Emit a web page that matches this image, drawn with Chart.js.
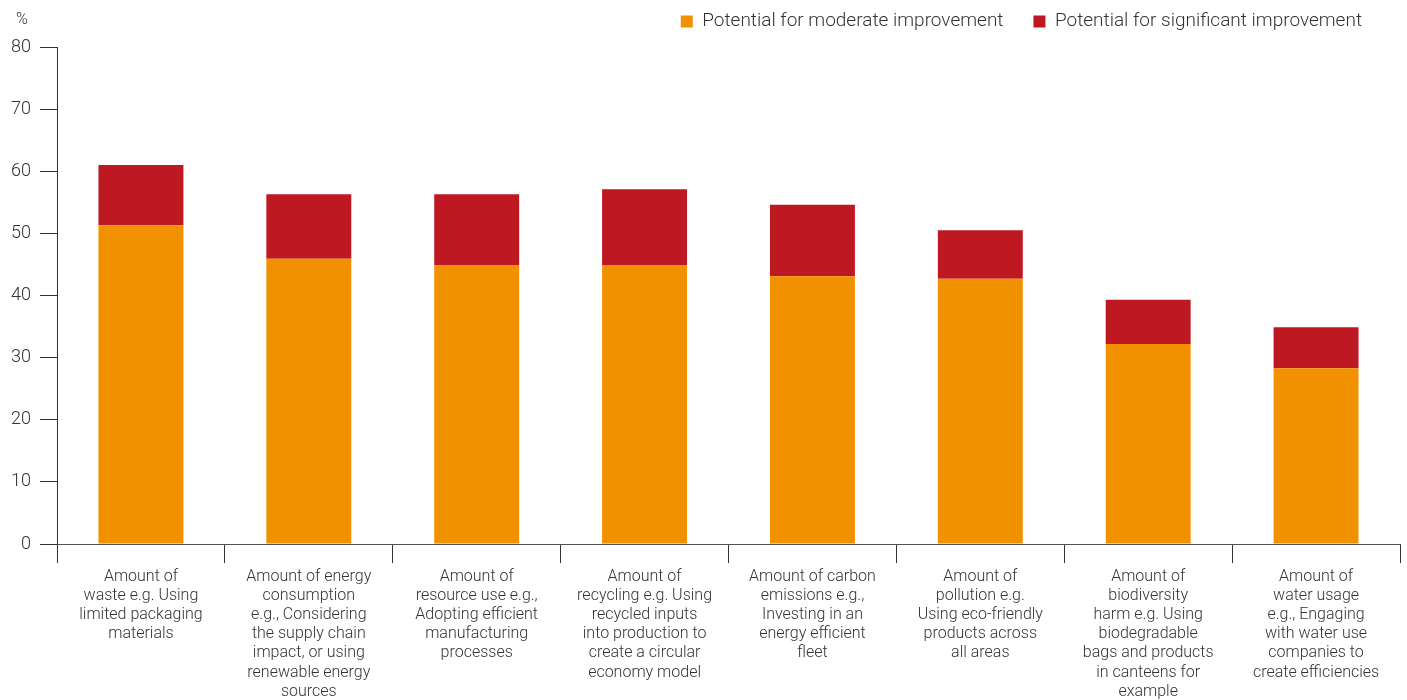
<!DOCTYPE html>
<html>
<head>
<meta charset="utf-8">
<script src="https://cdn.jsdelivr.net/npm/chart.js@4"></script>
<style>
  body { margin: 0; background: #fff; }
  #wrap { width: 1407px; height: 700px; }
</style>
</head>
<body>
<div id="wrap"><canvas id="myChart" width="1407" height="700"></canvas></div>
<script>
'use strict';

let categories = [
  ['Amount of', 'waste e.g. Using', 'limited packaging', 'materials'],
  ['Amount of energy', 'consumption', 'e.g., Considering', 'the supply chain', 'impact, or using', 'renewable energy', 'sources'],
  ['Amount of', 'resource use e.g.,', 'Adopting efficient', 'manufacturing', 'processes'],
  ['Amount of', 'recycling e.g. Using', 'recycled inputs', 'into production to', 'create a circular', 'economy model'],
  ['Amount of carbon', 'emissions e.g.,', 'Investing in an', 'energy efficient', 'fleet'],
  ['Amount of', 'pollution e.g.', 'Using eco-friendly', 'products across', 'all areas'],
  ['Amount of', 'biodiversity', 'harm e.g. Using', 'biodegradable', 'bags and products', 'in canteens for', 'example'],
  ['Amount of', 'water usage', 'e.g., Engaging', 'with water use', 'companies to', 'create efficiencies']
];

let moderate = [51.3, 45.9, 44.9, 44.9, 43.1, 42.7, 32.2, 28.3];
let significant = [9.7, 10.4, 11.4, 12.2, 11.5, 7.8, 7.1, 6.6];

let seriesNames = ['Potential for moderate improvement', 'Potential for significant improvement'];
let yTicks = [0, 10, 20, 30, 40, 50, 60, 70, 80];

let orange = '#f29100';
let red = '#be1823';
let inkColor = '#333333';
let fontFamily = 'Roboto, "Noto Sans", sans-serif';

// "%" unit above the y axis labels
let unitLabel = {
  id: 'unitLabel',
  afterDraw(chart) {
    let ctx = chart.ctx;
    let area = chart.chartArea;
    ctx.save();
    ctx.font = '300 16px ' + fontFamily;
    ctx.fillStyle = inkColor;
    ctx.textAlign = 'center';
    ctx.textBaseline = 'middle';
    ctx.fillText('%', area.left - 35, 20);
    ctx.restore();
  }
};

// wide gap between legend items but a short legend box, so move its top up
// (bottom stays put so the clip area still holds the text)
let legendNudge = {
  id: 'legendNudge',
  afterLayout(chart) {
    let lg = chart.legend;
    lg.left -= 8;
    lg.right -= 8;
    lg.top -= 24;
  }
};

let ctx = document.getElementById('myChart').getContext('2d');

let myChart = new Chart(ctx, {
  type: 'bar',
  data: {
    labels: categories,
    datasets: [
      {
        label: seriesNames[0],
        data: moderate,
        backgroundColor: orange,
        barPercentage: 0.506,
        categoryPercentage: 1
      },
      {
        label: seriesNames[1],
        data: significant,
        backgroundColor: red,
        barPercentage: 0.506,
        categoryPercentage: 1
      }
    ]
  },
  options: {
    responsive: false,
    animation: false,
    layout: { padding: { top: 6, right: 7, left: 0, bottom: 0 } },
    plugins: {
      tooltip: { enabled: false },
      legend: {
        position: 'top',
        align: 'end',
        maxHeight: 41,
        labels: {
          boxWidth: 12,
          boxHeight: 12,
          padding: 30,
          color: inkColor,
          font: { family: fontFamily, size: 19, weight: '300' }
        }
      }
    },
    scales: {
      x: {
        stacked: true,
        grid: {
          offset: true,
          drawOnChartArea: false,
          tickLength: 19,
          color: inkColor
        },
        border: { color: '#555555' },
        ticks: {
          color: inkColor,
          maxRotation: 0,
          autoSkip: false,
          padding: 4,
          font: { family: fontFamily, size: 16, weight: '300', lineHeight: 1.2 }
        },
        afterFit(scale) { scale.height = 156; }
      },
      y: {
        stacked: true,
        min: 0,
        max: 80,
        afterBuildTicks(scale) {
          scale.ticks = yTicks.map(v => ({ value: v }));
        },
        grid: {
          drawOnChartArea: false,
          tickLength: 17,
          color: inkColor
        },
        border: { color: inkColor },
        ticks: {
          color: inkColor,
          padding: 9,
          font: { family: fontFamily, size: 18, weight: '300' }
        },
        afterFit(scale) { scale.width = 57; }
      }
    }
  },
  plugins: [unitLabel, legendNudge]
});
</script>
</body>
</html>
